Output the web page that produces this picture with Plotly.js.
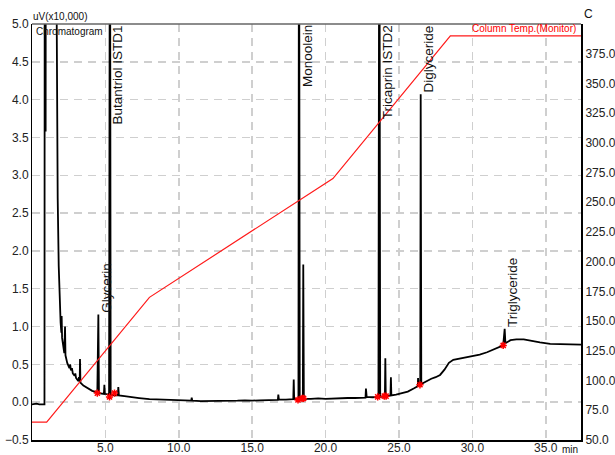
<!DOCTYPE html>
<html>
<head>
<meta charset="utf-8">
<script src="https://cdn.plot.ly/plotly-3.0.1.min.js"></script>
<style>html,body{margin:0;padding:0;background:#fff}#chart{width:615px;height:455px}</style>
</head>
<body>
<div id="chart"></div>
<script>
// Chromatogram signal (uV x10,000) vs retention time (min)
const timeMin = [0.0,0.3,0.5,0.85,0.87,0.92,0.93,0.94,1.6,1.68,1.75,1.82,1.9,1.95,2.0,2.02,2.05,2.1,2.2,2.25,2.28,2.4,2.55,2.6,2.65,2.72,2.78,2.9,2.95,3.0,3.15,3.2,3.25,3.27,3.3,3.5,3.8,4.1,4.4,4.45,4.52,4.56,4.9,4.93,4.96,5.25,5.31,5.36,5.6,5.85,5.88,5.92,6.3,6.8,7.3,8.0,8.5,9.0,9.5,10.0,10.5,10.85,10.88,10.92,11.5,12.0,12.5,13.0,13.5,14.0,14.5,15.0,15.5,16.0,16.5,16.75,16.78,16.82,17.3,17.8,17.83,17.86,18.15,18.19,18.24,18.45,18.48,18.52,19.0,19.5,20.0,20.5,21.0,21.5,22.0,22.5,22.72,22.75,22.8,23.2,23.6,23.66,23.72,24.04,24.07,24.1,24.42,24.45,24.48,24.8,25.2,25.6,26.0,26.28,26.3,26.33,26.45,26.48,26.52,26.8,27.2,27.5,27.8,28.1,28.4,28.7,29.0,29.5,30.0,30.5,31.0,31.5,32.0,32.1,32.2,32.25,32.6,33.0,33.5,34.0,34.6,35.3,36.0,36.8,37.4];
const signal = [-0.03,-0.02,-0.03,-0.03,8,8,3.58,8,8,4.0,2.7,1.8,1.25,1.05,0.92,1.14,0.85,0.75,0.65,1.0,0.62,0.52,0.45,0.5,0.42,0.45,0.38,0.35,0.38,0.32,0.28,0.33,0.27,0.57,0.26,0.22,0.18,0.15,0.13,0.12,1.16,0.12,0.11,0.23,0.11,0.1,8,0.1,0.09,0.09,0.2,0.09,0.08,0.065,0.055,0.04,0.035,0.03,0.025,0.02,0.02,0.02,0.06,0.02,0.015,0.015,0.02,0.015,0.02,0.02,0.025,0.02,0.025,0.03,0.03,0.03,0.1,0.035,0.035,0.04,0.3,0.04,0.04,8,0.04,0.045,1.82,0.045,0.045,0.05,0.045,0.05,0.05,0.055,0.055,0.06,0.06,0.18,0.07,0.065,0.07,8,0.07,0.08,0.58,0.08,0.09,0.33,0.09,0.1,0.12,0.14,0.18,0.21,0.32,0.22,0.23,4.07,0.24,0.27,0.31,0.33,0.36,0.43,0.52,0.56,0.57,0.59,0.61,0.63,0.66,0.7,0.74,0.75,0.97,0.78,0.82,0.83,0.83,0.81,0.79,0.77,0.765,0.76,0.76];

// Column temperature program (C)
const tempTime = [0, 1, 8, 20.5, 28.5, 37.4];
const tempValue = [65, 65, 170, 270, 390, 390];

// Integration marks (peak start / end points)
const markTime = [4.45, 5.28, 5.62, 18.12, 18.4, 18.5, 23.55, 24.0, 24.12, 26.43, 32.1];
const markValue = [0.12, 0.07, 0.12, 0.03, 0.05, 0.05, 0.07, 0.08, 0.08, 0.23, 0.75];

// Peak labels
const peakNames = ["Glycerin", "Butantriol ISTD1", "Monoolein", "Tricaprin ISTD2", "Diglyceride", "Triglyceride"];
const peakTimes = [4.52, 5.31, 18.19, 23.66, 26.48, 32.2];
const peakHeights = [1.16, 8, 8, 8, 4.07, 0.97];

// Tick labels
const xTicks = [5, 10, 15, 20, 25, 30, 35];
const yTicks = [-0.5, 0, 0.5, 1, 1.5, 2, 2.5, 3, 3.5, 4, 4.5, 5];
const y2Ticks = [50, 75, 100, 125, 150, 175, 200, 225, 250, 275, 300, 325, 350, 375];

const FONT = "Liberation Sans, Arial, sans-serif";
const YMAX = 5.0;

const traces = [
  {x: tempTime, y: tempValue, yaxis: 'y2', mode: 'lines', line: {color: '#ff1a1a', width: 1.2}, hoverinfo: 'skip'},
  {x: timeMin, y: signal, mode: 'lines', line: {color: '#000000', width: 1.8}, hoverinfo: 'skip'},
  {x: markTime, y: markValue, mode: 'markers', marker: {symbol: 'asterisk', size: 6, line: {color: '#ff0000', width: 1.5}, color: '#ff0000'}, hoverinfo: 'skip'}
];

const annotations = peakNames.map((name, i) => {
  const off = peakHeights[i] > YMAX;
  return {
    text: name, textangle: -90, showarrow: false,
    x: peakTimes[i], xref: 'x', xanchor: 'center', xshift: 8,
    y: off ? 1 : peakHeights[i], yref: off ? 'paper' : 'y',
    yanchor: off ? 'top' : 'bottom', yshift: off ? 0 : 1,
    font: {family: FONT, size: 13.5, color: '#111'}, borderpad: 0
  };
});
annotations.push(
  {text: 'uV(x10,000)', xref: 'paper', yref: 'paper', x: 0, y: 1, xanchor: 'left', yanchor: 'bottom', showarrow: false, font: {family: FONT, size: 10, color: '#111'}, borderpad: 0, xshift: 0, yshift: 1},
  {text: 'Chromatogram', xref: 'paper', yref: 'paper', x: 0, y: 1, xanchor: 'left', yanchor: 'top', showarrow: false, font: {family: FONT, size: 10, color: '#111'}, borderpad: 0, xshift: 3, yshift: -1},
  {text: 'Column Temp.(Monitor)', xref: 'paper', yref: 'paper', x: 1, y: 1, xanchor: 'right', yanchor: 'top', showarrow: false, font: {family: FONT, size: 10, color: '#ff0000'}, borderpad: 0, xshift: -4, yshift: 2},
  {text: 'C', xref: 'paper', yref: 'paper', x: 1, y: 1, xanchor: 'left', yanchor: 'bottom', showarrow: false, font: {family: FONT, size: 12, color: '#111'}, borderpad: 0, xshift: 2, yshift: 2},
  {text: 'min', xref: 'paper', yref: 'paper', x: 1, y: 0, xanchor: 'right', yanchor: 'top', showarrow: false, font: {family: FONT, size: 10, color: '#111'}, borderpad: 0, xshift: -2, yshift: -3}
);

const layout = {
  width: 615, height: 455,
  margin: {l: 32, r: 34, t: 24, b: 15, pad: 0},
  paper_bgcolor: '#ffffff', plot_bgcolor: '#ffffff',
  showlegend: false,
  font: {family: FONT, size: 12, color: '#222'},
  xaxis: {
    range: [0, 37.4], tickvals: xTicks, tickformat: '.1f',
    showgrid: true, gridcolor: '#cfcfcf', gridwidth: 1.5, griddash: '8px,6px',
    zeroline: false, showline: true, linecolor: '#000', linewidth: 1.5,
    ticks: '', ticklabelstandoff: -4, tickfont: {family: FONT, size: 12, color: '#222'}, fixedrange: true
  },
  yaxis: {
    range: [-0.5, 5.0], tickvals: yTicks, tickformat: '.1f',
    showgrid: true, gridcolor: '#cfcfcf', gridwidth: 1.5, griddash: '8px,6px',
    zeroline: false, showline: true, linecolor: '#000', linewidth: 1,
    ticks: '', tickfont: {family: FONT, size: 12, color: '#222'}, fixedrange: true
  },
  yaxis2: {
    range: [50, 400], tickvals: y2Ticks, tickformat: '.1f',
    overlaying: 'y', side: 'right', showgrid: false, zeroline: false,
    showline: true, linecolor: '#000', linewidth: 2,
    ticks: '', tickfont: {family: FONT, size: 12, color: '#222'}, fixedrange: true
  },
  shapes: [{type: 'line', xref: 'paper', yref: 'paper', x0: 0, x1: 1, y0: 1, y1: 1, line: {color: '#666', width: 1.5}}],
  annotations: annotations
};

Plotly.newPlot('chart', traces, layout, {staticPlot: true, displayModeBar: false});
</script>
</body>
</html>
